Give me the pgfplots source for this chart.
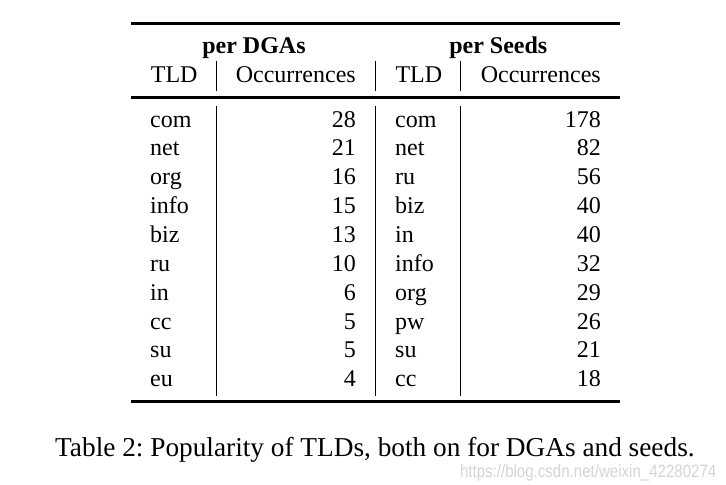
\documentclass[border=0pt]{standalone}
\usepackage{pgfplots}
\pgfplotsset{compat=1.18}
\usepackage{pgfplotstable}
\usepackage{fontspec}
\setmainfont{Liberation Serif}
\newfontfamily\wmfont[FakeStretch=0.84]{Liberation Sans}
\newcommand\bodyfont{\fontsize{24.1}{29}\selectfont}
\newcommand\capfont{\fontsize{27.4}{32}\selectfont}
\frenchspacing
\pgfplotstableread{
dtld dnum stld snum
com 28 com 178
net 21 net 82
org 16 ru 56
info 15 biz 40
biz 13 in 40
ru 10 info 32
in 6 org 29
cc 5 pw 26
su 5 su 21
eu 4 cc 18
}\tlds
\begin{document}
\begin{tikzpicture}
\begin{axis}[
  width=726bp, height=484bp, scale only axis,
  xmin=0, xmax=726, ymin=0, ymax=484, y dir=reverse,
  hide axis, clip=false,
  txt/.style={draw=none, mark=none, point meta=explicit symbolic,
    nodes near coords={\pgfplotspointmeta},
    nodes near coords style={inner sep=0pt, font=\bodyfont, text=black, anchor=#1}},
]
% page frame (invisible, fixes the bounding box)
\addplot[draw=white, line width=0.01pt] coordinates {(0,0) (726,0) (726,484) (0,484) (0,0)};
% rules
\addplot[black, line width=3.3bp] coordinates {(131,23.7) (620,23.7)};
\addplot[black, line width=2.4bp] coordinates {(131,97.3) (620,97.3)};
\addplot[black, line width=3.5bp] coordinates {(131,401.3) (620,401.3)};
% vertical rules header
\addplot[black, line width=0.9bp] coordinates {(216.7,60.7) (216.7,90.7)};
\addplot[black, line width=0.9bp] coordinates {(375.7,60.7) (375.7,90.7)};
\addplot[black, line width=0.9bp] coordinates {(460.7,60.7) (460.7,90.7)};
% vertical rules body
\addplot[black, line width=0.9bp] coordinates {(216.7,106) (216.7,396)};
\addplot[black, line width=0.9bp] coordinates {(375.7,106) (375.7,396)};
\addplot[black, line width=0.9bp] coordinates {(460.7,106) (460.7,396)};
% group headers
\addplot[txt=base, nodes near coords style={font=\bodyfont\bfseries}] coordinates {(254,53) [{per DGAs}] (498.3,53) [{per Seeds}]};
% column headers
\addplot[txt=base west] coordinates {(150.7,82) [TLD] (395.3,82) [TLD]};
\addplot[txt=base east] coordinates {(356,82) [Occurrences] (601,82) [Occurrences]};
% body
\addplot[txt=base west] table[x expr=150, y expr=127+28.86*\coordindex, meta=dtld]{\tlds};
\addplot[txt=base east] table[x expr=356, y expr=127+28.86*\coordindex, meta=dnum]{\tlds};
\addplot[txt=base west] table[x expr=395, y expr=127+28.86*\coordindex, meta=stld]{\tlds};
\addplot[txt=base east] table[x expr=601, y expr=127+28.86*\coordindex, meta=snum]{\tlds};
% caption
\addplot[txt=base west, nodes near coords style={font=\capfont}] coordinates {(55,456.7) [{Table 2: Popularity of TLDs, both on for DGAs and seeds.}]};
% watermark
\addplot[txt=base east, nodes near coords style={font=\wmfont\fontsize{18}{21}\selectfont, text=black!17}] coordinates {(716.5,477.5) [{https://blog.csdn.net/weixin\_42280274}]};
\end{axis}
\end{tikzpicture}
\end{document}
